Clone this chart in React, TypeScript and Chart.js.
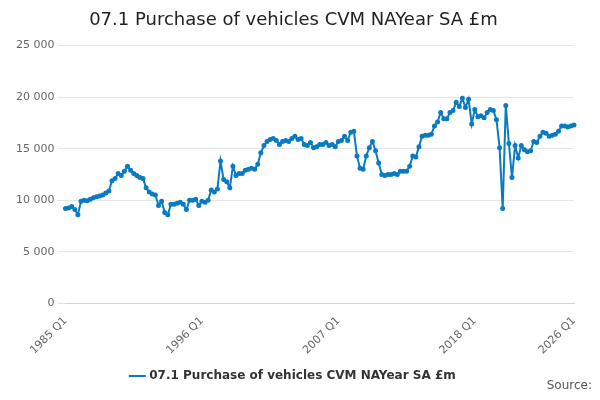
import React, { useEffect, useRef } from "react";
import { Chart, registerables } from "chart.js";
Chart.register(...registerables);

const years: number[] = [];
for (let y = 1985; y <= 2026; y++) years.push(y);
const labels: string[] = [];
years.forEach((y) => [1, 2, 3, 4].forEach((q) => { if (y < 2026 || q === 1) labels.push(`${y} Q${q}`); }));
const shownTicks = ["1985 Q1", "1996 Q1", "2007 Q1", "2018 Q1", "2026 Q1"];

const values1985to1995 = [
  9200, 9250, 9400, 9100, 8600, 9900, 10000, 9950, 10100, 10250, 10350, 10400,
  10500, 10700, 10900, 11900, 12100, 12600, 12400, 12800, 13300, 12900, 12600, 12400,
  12200, 12100, 11200, 10800, 10600, 10500, 9500, 9900, 8800, 8600, 9600, 9600,
  9700, 9800, 9600, 9100, 10000, 10000, 10100, 9500,
];
const values1996to2007 = [
  9900, 9800, 10000, 11000, 10800, 11100, 13800, 12000, 11800, 11200, 13300, 12400,
  12600, 12600, 12900, 13000, 13100, 13000, 13500, 14600, 15300, 15700, 15900, 16000,
  15800, 15400, 15700, 15800, 15700, 16000, 16200, 15900, 16000, 15400, 15300, 15600,
  15100, 15200, 15400, 15400, 15600, 15300, 15400, 15200,
];
const values2007to2017 = [
  15700, 15800, 16200, 15800, 16600, 16700, 14300, 13100, 13000, 14300, 15100, 15700,
  14800, 13600, 12500, 12400, 12500, 12500, 12600, 12500, 12800, 12800, 12800, 13300,
  14300, 14200, 15200, 16200, 16300, 16300, 16400, 17200, 17600, 18500, 17900, 17900,
  18500, 18700, 19500, 19100, 19900, 19000, 19800, 17400,
];
const values2018to2026 = [
  18800, 18100, 18200, 18000, 18500, 18800, 18700, 17800, 15100, 9200, 19200, 15500,
  12200, 15300, 14100, 15300, 14900, 14700, 14800, 15700, 15600, 16200, 16600, 16500,
  16200, 16300, 16400, 16700, 17200, 17200, 17100, 17200, 17300,
];
const values = [...values1985to1995, ...values1996to2007, ...values2007to2017, ...values2018to2026];

export default function App() {
  const ref = useRef<HTMLCanvasElement>(null);
  useEffect(() => {
    const chart = new Chart(ref.current!, {
      type: "line",
      data: {
        labels,
        datasets: [{
          label: "07.1 Purchase of vehicles CVM NAYear SA £m",
          data: values,
          borderColor: "#0a7bc1",
          backgroundColor: "#0a7bc1",
          borderWidth: 2,
          pointRadius: 1.5,
          pointHoverRadius: 2,
          tension: 0,
        }],
      },
      options: {
        animation: false,
        responsive: false,
        layout: { padding: { left: 5, right: 18, top: 0, bottom: 0 } },
        plugins: {
          title: { display: true, text: "07.1 Purchase of vehicles CVM NAYear SA £m", color: "#222", font: { size: 18, family: "DejaVu Sans", weight: "normal" }, padding: { top: 2, bottom: 14 } },
          legend: { position: "bottom", labels: { usePointStyle: true, pointStyle: "line", color: "#333", font: { size: 12, weight: "bold", family: "DejaVu Sans" } } },
          tooltip: { enabled: false },
        },
        scales: {
          x: {
            grid: { display: false, drawTicks: true },
            border: { color: "#ccd6eb" },
            ticks: {
              autoSkip: false, maxRotation: 45, minRotation: 45, color: "#666", font: { size: 11, family: "DejaVu Sans" },
              callback: (_v: any, i: number) => (shownTicks.includes(labels[i]) ? labels[i] : null),
            },
          },
          y: {
            min: 0, max: 25000,
            grid: { color: "#e6e6e6" },
            border: { display: false },
            ticks: { stepSize: 5000, color: "#666", font: { size: 11, family: "DejaVu Sans" }, callback: (v: any) => String(v).replace(/\B(?=(\d{3})+(?!\d))/g, " ") },
          },
        },
      },
    });
    return () => chart.destroy();
  }, []);
  return (
    <div style={{ position: "relative", width: 584, height: 384 }}>
      <canvas ref={ref} width={584} height={384} />
      <div style={{ position: "absolute", right: 0, bottom: 0, fontFamily: "DejaVu Sans", fontSize: 12, color: "#555" }}>Source:</div>
    </div>
  );
}
